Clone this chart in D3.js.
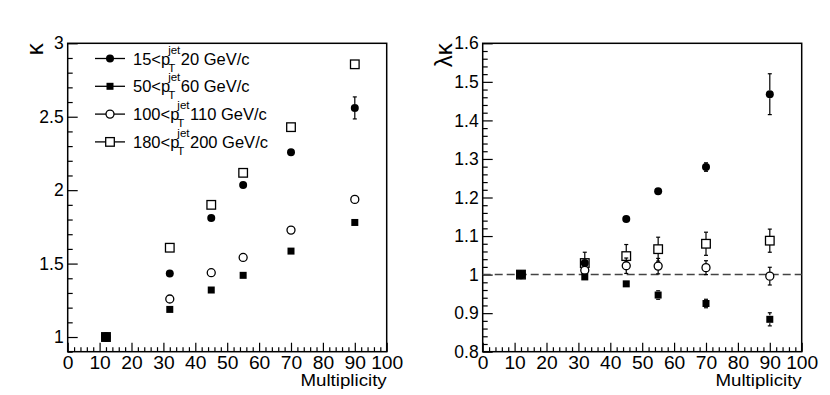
<!DOCTYPE html>
<html>
<head>
<meta charset="utf-8">
<script src="https://cdn.jsdelivr.net/npm/d3@7"></script>
<style>
  body { margin: 0; background: #fff; }
  svg { display: block; font-family: "Liberation Sans", Arial, sans-serif; }
</style>
</head>
<body>
<svg id="chart" width="830" height="395"></svg>
<script>
// multiplicity bins
const multiplicity = [12, 32, 45, 55, 70, 90];

// jet pT ranges for the legend
const ptLow = [15, 50, 100, 180];
const ptHigh = [20, 60, 110, 200];

// kappa, left panel
const kappa15 = [1, 1.433, 1.81, 2.035, 2.258, 2.56];
const kappa50 = [1, 1.188, 1.32, 1.42, 1.585, 1.78];
const kappa100 = [1, 1.259, 1.438, 1.542, 1.728, 1.937];
const kappa180 = [1, 1.608, 1.90, 2.118, 2.429, 2.857];
const kappaErr15 = [0, 0.005, 0.006, 0.008, 0.01, 0.075];
const kappaErr50 = [0, 0.004, 0.005, 0.006, 0.008, 0.012];
const kappaErr100 = [0, 0.005, 0.006, 0.008, 0.01, 0.015];
const kappaErr180 = [0, 0.006, 0.008, 0.01, 0.012, 0.018];

// lambda*kappa, right panel
const lk15 = [1, 1.030, 1.144, 1.216, 1.279, 1.468];
const lk50 = [1, 0.994, 0.976, 0.947, 0.925, 0.884];
const lk100 = [1, 1.011, 1.023, 1.022, 1.018, 0.996];
const lk180 = [1, 1.030, 1.048, 1.066, 1.080, 1.088];
const lkErr15 = [0, 0.005, 0.004, 0.007, 0.011, 0.053];
const lkErr50 = [0, 0.006, 0.01, 0.011, 0.011, 0.017];
const lkErr100 = [0, 0.015, 0.02, 0.02, 0.018, 0.023];
const lkErr180 = [0, 0.028, 0.03, 0.031, 0.03, 0.03];

// marker styles per series (full circle, full square, open circle, open square)
const markerType = ["fcircle", "fsquare", "ocircle", "osquare"];

const svg = d3.select("#chart");
const FONT = "Liberation Sans, Arial, sans-serif";

// widen text a bit, the original glyphs are wider than Liberation Sans
function stretch(sel, f) {
    sel.each(function() {
        const w = this.getComputedTextLength();
        if (w > 0) d3.select(this).attr("textLength", w * f).attr("lengthAdjust", "spacingAndGlyphs");
    });
}

function drawMarker(g, type, cx, cy, big) {
    if (type == "fcircle") {
        g.append("circle").attr("cx", cx).attr("cy", cy).attr("r", 4).attr("fill", "#000");
    } else if (type == "ocircle") {
        g.append("circle").attr("cx", cx).attr("cy", cy).attr("r", 4)
            .attr("fill", "#fff").attr("stroke", "#000").attr("stroke-width", 1.3);
    } else if (type == "fsquare") {
        let s = big ? 8 : 7;
        g.append("rect").attr("x", cx - s / 2).attr("y", cy - s / 2).attr("width", s).attr("height", s).attr("fill", "#000");
    } else {
        g.append("rect").attr("x", cx - 4.3).attr("y", cy - 4.3).attr("width", 8.6).attr("height", 8.6)
            .attr("fill", "#fff").attr("stroke", "#000").attr("stroke-width", 1.3);
    }
}

function drawPanel(opt) {
    const g = svg.append("g");
    const x = d3.scaleLinear().domain([0, 100]).range([opt.left, opt.right]);
    const y = d3.scaleLinear().domain(opt.ydomain).range([opt.bottom, opt.top]);

    // frame
    g.append("rect")
        .attr("x", opt.left).attr("y", opt.top)
        .attr("width", opt.right - opt.left).attr("height", opt.bottom - opt.top)
        .attr("fill", "none").attr("stroke", "#000").attr("stroke-width", 1.5);

    // axes, ticks inside the frame
    const xMajor = g.append("g").attr("transform", "translate(0," + opt.bottom + ")")
        .call(d3.axisBottom(x).tickValues(d3.range(0, 101, 10)).tickSize(-9).tickPadding(5).tickFormat(d3.format("d")));
    const xMinor = g.append("g").attr("transform", "translate(0," + opt.bottom + ")")
        .call(d3.axisBottom(x).tickValues(d3.range(0, 101, 2).filter(v => v % 10 != 0)).tickSize(-4.5).tickFormat(""));

    const yMajor = g.append("g").attr("transform", "translate(" + opt.left + ",0)")
        .call(d3.axisLeft(y).tickValues(opt.majors).tickSize(-10).tickPadding(4).tickFormat(opt.fmt));
    const yMinor = g.append("g").attr("transform", "translate(" + opt.left + ",0)")
        .call(d3.axisLeft(y).tickValues(opt.minors).tickSize(-5).tickFormat(""));

    [xMajor, xMinor, yMajor, yMinor].forEach(a => {
        a.select(".domain").remove();
        a.attr("font-family", FONT).attr("font-size", 17.5);
        a.selectAll("line").attr("stroke", "#000").attr("stroke-width", 1.2);
        a.selectAll("text").attr("fill", "#000");
    });
    stretch(xMajor.selectAll("text"), 1.1);

    // x title
    const xt = g.append("text").attr("x", opt.right).attr("y", 386)
        .attr("text-anchor", "end").attr("font-size", 17).attr("font-family", FONT)
        .text("Multiplicity");
    stretch(xt, 1.1);

    // y title
    g.append("text")
        .attr("transform", "translate(" + opt.ytitleX + "," + opt.top + ") rotate(-90)")
        .attr("text-anchor", "end").attr("font-size", 24).attr("font-family", FONT)
        .text(opt.ytitle);

    if (opt.refLine != null) {
        g.append("line")
            .attr("x1", opt.left).attr("x2", opt.right)
            .attr("y1", y(opt.refLine)).attr("y2", y(opt.refLine))
            .attr("stroke", "#444").attr("stroke-width", 1.5).attr("stroke-dasharray", "8,4");
    }

    // draw order: open markers first, filled on top
    const order = [3, 2, 0, 1];
    order.forEach(si => {
        const vals = opt.values[si];
        const errs = opt.errors[si];
        const type = markerType[si];
        multiplicity.forEach((m, i) => {
            const cx = x(m), cy = y(vals[i]);
            const yt = y(vals[i] + errs[i]), yb = y(vals[i] - errs[i]);
            const h = 4;
            if (cy - yt > h) {
                g.append("line").attr("x1", cx).attr("x2", cx).attr("y1", yt).attr("y2", cy - h)
                    .attr("stroke", "#000").attr("stroke-width", 1.2);
                g.append("line").attr("x1", cx).attr("x2", cx).attr("y1", cy + h).attr("y2", yb)
                    .attr("stroke", "#000").attr("stroke-width", 1.2);
                g.append("line").attr("x1", cx - 2).attr("x2", cx + 2).attr("y1", yt).attr("y2", yt)
                    .attr("stroke", "#000").attr("stroke-width", 1.2);
                g.append("line").attr("x1", cx - 2).attr("x2", cx + 2).attr("y1", yb).attr("y2", yb)
                    .attr("stroke", "#000").attr("stroke-width", 1.2);
            }
            drawMarker(g, type, cx, cy, i == 0);
        });
    });
    return g;
}

drawPanel({
    left: 67.7, right: 386.7, top: 43.3, bottom: 351.7,
    ydomain: [0.9, 3.0],
    majors: [1, 1.5, 2, 2.5, 3],
    minors: d3.range(9, 31).map(v => v / 10).filter(v => Math.round(v * 10) % 5 != 0),
    fmt: d => d3.format("")(d),
    ytitle: "\u03ba", ytitleX: 43,
    refLine: null,
    values: [kappa15, kappa50, kappa100, kappa180],
    errors: [kappaErr15, kappaErr50, kappaErr100, kappaErr180]
});

drawPanel({
    left: 482.7, right: 801.7, top: 43.3, bottom: 351.7,
    ydomain: [0.8, 1.6],
    majors: d3.range(8, 17).map(v => v / 10),
    minors: d3.range(40, 81).map(v => v / 50).filter(v => Math.round(v * 50) % 5 != 0),
    fmt: d => d3.format("")(Math.round(d * 10) / 10),
    ytitle: "\u03bb\u03ba", ytitleX: 452,
    refLine: 1,
    values: [lk15, lk50, lk100, lk180],
    errors: [lkErr15, lkErr50, lkErr100, lkErr180]
});

// legend
const legend = svg.append("g").attr("font-family", FONT);
ptLow.forEach((lo, i) => {
    const cy = 58.5 + i * 27.8;
    legend.append("line").attr("x1", 95).attr("x2", 125).attr("y1", cy).attr("y2", cy)
        .attr("stroke", "#000").attr("stroke-width", 1.3);
    drawMarker(legend, markerType[i], 110, cy, false);
    const t1 = legend.append("text").attr("x", 133).attr("y", cy + 6).attr("font-size", 16.5).text(lo + "<p");
    const w1 = t1.node().getComputedTextLength();
    const sx = 133 + w1 - 2;
    const tSub = legend.append("text").attr("x", sx).attr("y", cy + 13).attr("font-size", 11.5).text("T");
    const tSup = legend.append("text").attr("x", sx).attr("y", cy - 5).attr("font-size", 11.5).text("jet");
    const w2 = Math.max(tSub.node().getComputedTextLength(), tSup.node().getComputedTextLength());
    legend.append("text").attr("x", sx + w2 + 0.5).attr("y", cy + 6).attr("font-size", 16.5)
        .text(ptHigh[i] + " GeV/c");
});
</script>
</body>
</html>
